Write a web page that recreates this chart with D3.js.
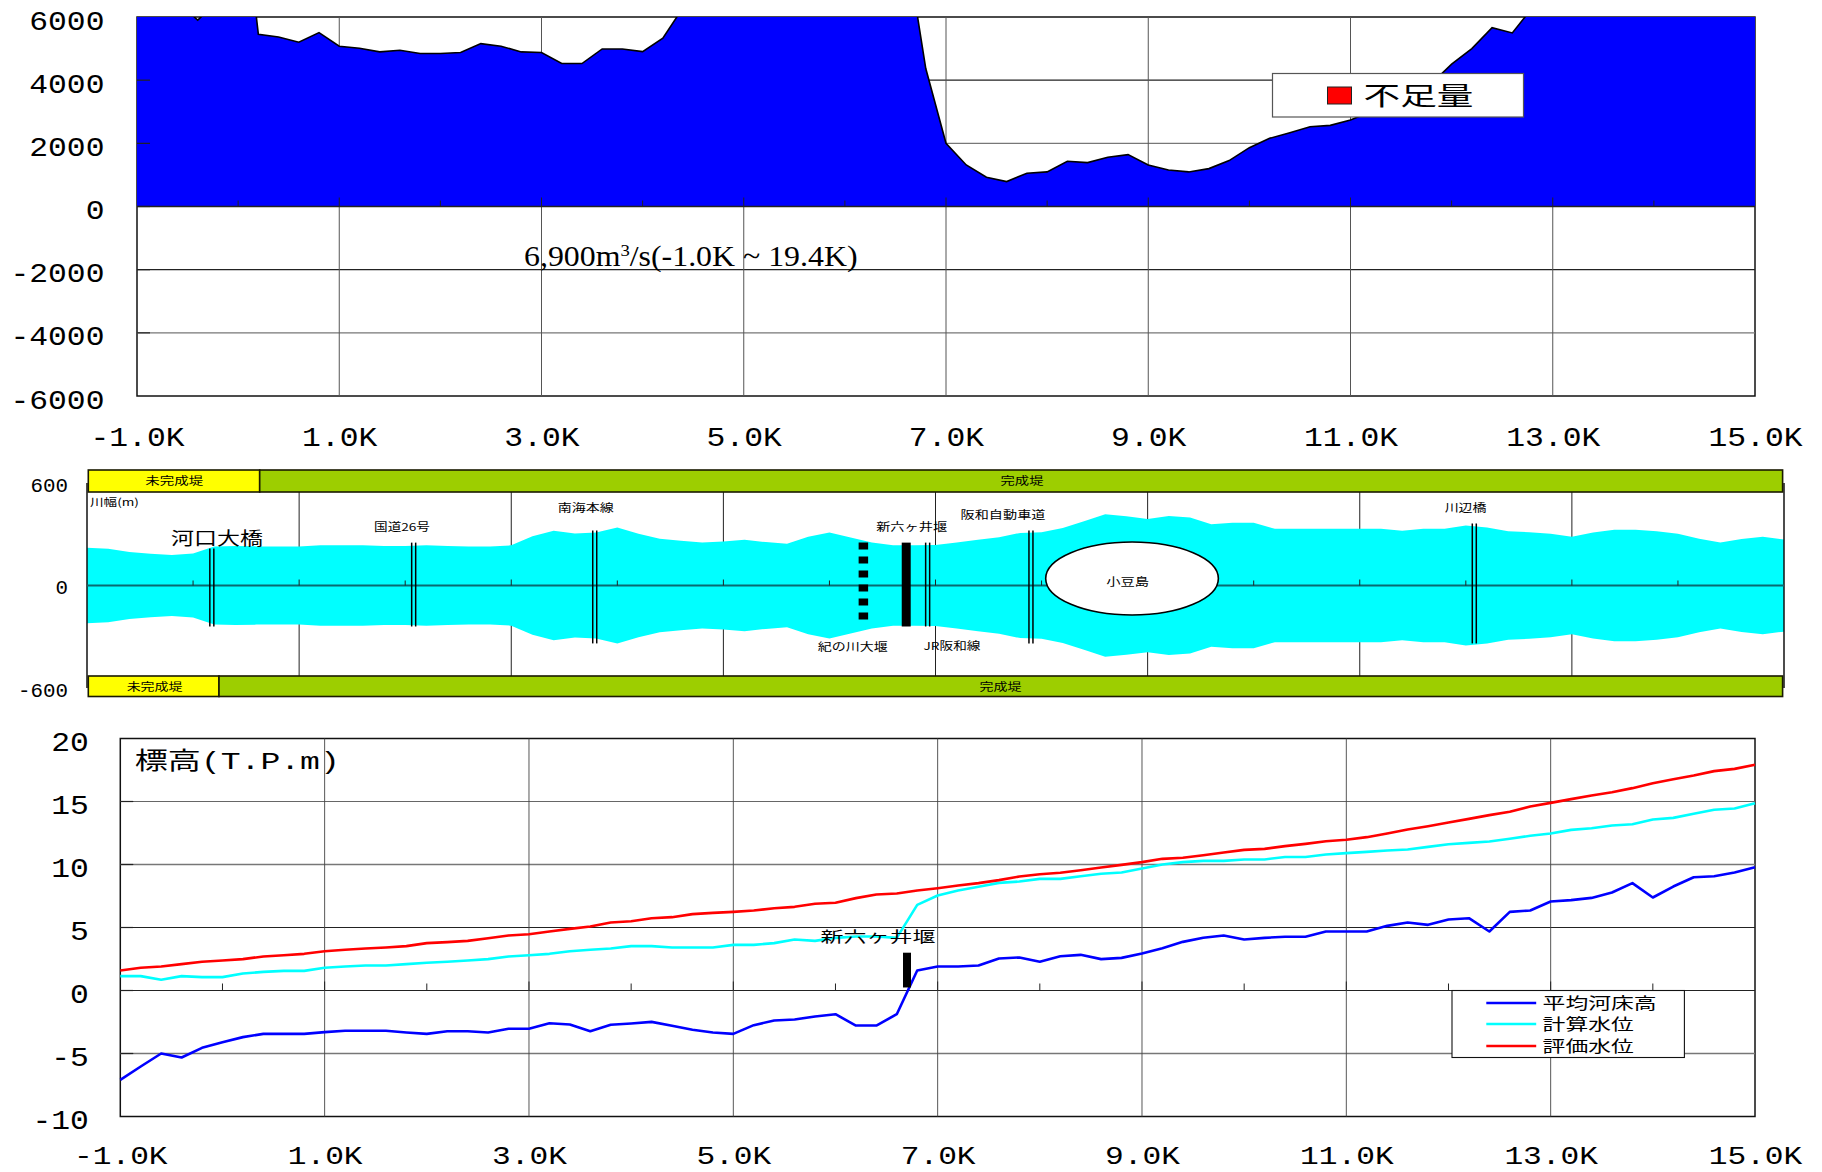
<!DOCTYPE html>
<html lang="ja">
<head>
<meta charset="utf-8">
<style>html,body{margin:0;padding:0;background:#fff}svg{display:block}</style>
<script src="https://cdn.jsdelivr.net/npm/d3@7"></script>
</head>
<body>
<svg id="c" width="1822" height="1172"></svg>
<script>
// ---- data (km posts every 0.2K from -1.0K to 15.0K) ----
const kmStart = -1, kmStep = 0.2;
const shortage = [6500,6500,6500,5900,6500,11000,5453,5368,5200,5505,5074,5010,4895,4947,4842,4842,4874,5158,5074,4895,4874,4526,4526,4989,4989,4905,5326,6300,8000,9000,9000,9000,9000,9000,9000,9000,9000,8800,8400,4368,2000,1316,926,790,1053,1095,1432,1390,1558,1642,1316,1158,1095,1200,1453,1863,2158,2337,2526,2568,2737,3000,3263,3526,3895,4505,5000,5663,5495,6300,7000,7500,7500,7500,7500,7500,7500,7500,7500,7500,7500];
const halfWidth = [221,215,196,186,178,188,229,231,229,229,229,235,235,235,231,231,235,231,229,229,235,289,320,305,310,340,303,274,262,252,258,268,254,244,285,310,281,252,235,235,237,252,268,283,308,312,336,376,417,405,390,407,398,359,367,367,332,332,332,332,332,332,320,332,332,351,340,318,312,303,285,310,326,326,318,303,274,252,272,285,270];
const bedHeight = [-7.09,-6.03,-5.0,-5.32,-4.55,-4.1,-3.7,-3.44,-3.44,-3.44,-3.3,-3.2,-3.2,-3.2,-3.33,-3.44,-3.23,-3.23,-3.33,-3.04,-3.04,-2.6,-2.7,-3.23,-2.72,-2.62,-2.49,-2.8,-3.12,-3.33,-3.44,-2.75,-2.38,-2.3,-2.06,-1.88,-2.78,-2.78,-1.88,1.59,1.9,1.9,1.98,2.54,2.62,2.28,2.72,2.83,2.49,2.59,2.94,3.36,3.86,4.18,4.37,4.05,4.18,4.26,4.26,4.68,4.68,4.68,5.13,5.4,5.21,5.63,5.74,4.68,6.24,6.35,7.06,7.17,7.35,7.78,8.52,7.38,8.25,8.99,9.07,9.37,9.79];
const calcLevel = [1.14,1.14,0.85,1.14,1.06,1.06,1.35,1.48,1.56,1.56,1.8,1.9,1.98,1.98,2.09,2.2,2.28,2.38,2.49,2.7,2.8,2.91,3.12,3.23,3.33,3.52,3.52,3.41,3.41,3.41,3.62,3.62,3.76,4.05,3.94,4.18,4.29,4.29,4.18,6.8,7.54,7.94,8.23,8.54,8.65,8.86,8.86,9.07,9.26,9.37,9.68,10.0,10.19,10.29,10.29,10.4,10.4,10.6,10.6,10.79,10.9,11.0,11.11,11.19,11.4,11.61,11.72,11.83,12.04,12.28,12.46,12.75,12.88,13.1,13.2,13.57,13.7,14.02,14.34,14.44,14.87];
const evalLevel = [1.59,1.8,1.9,2.09,2.28,2.38,2.49,2.7,2.8,2.91,3.12,3.23,3.33,3.41,3.52,3.76,3.84,3.94,4.15,4.37,4.47,4.68,4.89,5.08,5.4,5.5,5.74,5.82,6.06,6.16,6.24,6.35,6.53,6.64,6.88,6.96,7.33,7.62,7.7,7.94,8.12,8.33,8.52,8.76,9.05,9.23,9.34,9.55,9.76,9.97,10.19,10.45,10.53,10.74,10.95,11.16,11.24,11.46,11.64,11.85,11.96,12.17,12.46,12.78,13.04,13.33,13.62,13.92,14.18,14.6,14.89,15.19,15.48,15.74,16.06,16.45,16.77,17.06,17.41,17.59,17.91];
const oddKm = [-1,1,3,5,7,9,11,13,15];
const evenKm = [0,2,4,6,8,10,12,14];
const topTicks = [6000,4000,2000,0,-2000,-4000,-6000];
const midTicks = [600,0,-600];
const lowTicks = [20,15,10,5,0,-5,-10];
const seriesNames = ['平均河床高','計算水位','評価水位'];
const seriesColors = ['#0000ff','#00ffff','#ff0000'];
const bridgeNames = ['河口大橋','国道26号','南海本線','JR阪和線','阪和自動車道','川辺橋'];
const bridgeKm = [0.177,2.08,3.787,6.926,7.9,12.08];
const bridgeUp = [216,251,322,251,322,363];
const bridgeDown = [240,240,339,240,339,339];
const weirKm = 6.32, weirKm2 = 6.724;

const svg = d3.select('#c');
const MONO = '"Liberation Mono",monospace', CJK = '"Noto Sans CJK JP",sans-serif', SERIF = '"Liberation Serif",serif';
const toRows = arr => arr.map((v,i)=>({km:kmStart+i*kmStep, v}));

// text stretched to a measured width, as the reference is anamorphic
function label(g, str, x, cy, size, width, anchor='middle', family=CJK){
  const t = g.append('text').text(str).attr('font-family',family).attr('font-size',size)
    .attr('text-anchor',anchor).attr('fill','#000');
  const sx = width / t.node().getComputedTextLength();
  t.attr('transform',`translate(${x},${cy+size*0.36}) scale(${sx},1)`);
  return t;
}
function styleAxis(g, size, sx, tx, ty){
  g.select('.domain').remove();
  g.selectAll('line').remove();
  g.selectAll('text').attr('x',0).attr('y',0).attr('dy',null)
    .attr('font-family',MONO).attr('font-size',size).attr('fill','#000')
    .attr('transform',`translate(${tx},${ty}) scale(${sx},1)`);
}
function vLines(g, vals, x, y0, y1, color='#555', w=1){
  g.selectAll(null).data(vals).join('line')
   .attr('x1',x).attr('x2',x).attr('y1',y0).attr('y2',y1)
   .attr('stroke',color).attr('stroke-width',w);
}

// ================= top chart =================
{
  const L=137, R=1755;
  const x = d3.scaleLinear([-1,15],[L,R]);
  const y = d3.scaleLinear([6000,-6000],[17,396]);
  const g = svg.append('g');
  svg.append('defs').append('clipPath').attr('id','topClip').append('rect')
    .attr('x',L).attr('y',17).attr('width',R-L).attr('height',379);
  const gridColor = {4000:'#222',2000:'#777','-2000':'#222','-4000':'#777'};
  g.append('rect').attr('x',L).attr('y',17).attr('width',R-L).attr('height',379)
    .attr('fill','#fff').attr('stroke','#111').attr('stroke-width',1.5);
  g.selectAll(null).data(topTicks.filter(d=>Math.abs(d)<6000&&d!==0)).join('line')
    .attr('x1',L).attr('x2',R).attr('y1',d=>y(d)).attr('y2',d=>y(d))
    .attr('stroke',d=>gridColor[d]).attr('stroke-width',1.3);
  vLines(g, oddKm.slice(1,-1), d=>x(d), 17, 396, '#555', 1);
  const rows = toRows(shortage);
  const clip = g.append('g').attr('clip-path','url(#topClip)');
  clip.append('path').datum(rows).attr('fill','#0000ff')
    .attr('d',d3.area().x(d=>x(d.km)).y0(y(0)).y1(d=>y(d.v)));
  clip.append('path').datum(rows).attr('fill','none').attr('stroke','#000').attr('stroke-width',1.6)
    .attr('d',d3.line().x(d=>x(d.km)).y(d=>y(d.v)));
  g.append('line').attr('x1',L).attr('x2',R).attr('y1',y(0)).attr('y2',y(0)).attr('stroke','#222').attr('stroke-width',1.5);
  vLines(g, oddKm.slice(1,-1), d=>x(d), y(0)-9, y(0), '#222', 1);
  vLines(g, evenKm, d=>x(d), y(0)-6, y(0), '#222', 1);
  g.selectAll(null).data(topTicks.slice(1,-1)).join('line')
    .attr('x1',L).attr('x2',L+13).attr('y1',d=>y(d)).attr('y2',d=>y(d)).attr('stroke','#222').attr('stroke-width',1.2);
  g.append('g').attr('transform',`translate(${L},0)`)
    .call(d3.axisLeft(y).tickValues(topTicks).tickSize(0).tickFormat(d=>String(d)))
    .call(a=>styleAxis(a,28,1.12,-32.5,12));
  g.append('g').attr('transform','translate(0,396)')
    .call(d3.axisBottom(x).tickValues(oddKm).tickSize(0).tickFormat(d=>d.toFixed(1)+'K'))
    .call(a=>styleAxis(a,28,1.12,0,50));
  // discharge note
  const note = g.append('text').attr('font-family',SERIF).attr('font-size',29).attr('fill','#000');
  note.append('tspan').text('6,900m');
  note.append('tspan').text('3').attr('font-size',17).attr('dy',-10);
  note.append('tspan').text('/s(-1.0K ~ 19.4K)').attr('dy',10);
  const nw = note.node().getComputedTextLength();
  note.attr('transform',`translate(524,266) scale(${333.6/nw},1)`);
  // legend
  g.append('rect').attr('x',1272.5).attr('y',73.5).attr('width',251).attr('height',43.5)
    .attr('fill','#fff').attr('stroke','#555').attr('stroke-width',1.2);
  g.append('rect').attr('x',1327.5).attr('y',87).attr('width',24).attr('height',17)
    .attr('fill','#ff0000').attr('stroke','#222').attr('stroke-width',1);
  label(g,'不足量',1363.5,96,25,110,'start');
}

// ================= middle chart =================
{
  const x = d3.scaleLinear([-1,15],[87,1784]);
  const y = d3.scaleLinear([600,-600],[483,688]);
  const g = svg.append('g');
  // grid
  vLines(g, oddKm.slice(1,-1), d=>x(d), 492, 676, '#222', 1);
  const rows = toRows(halfWidth);
  g.append('path').datum(rows).attr('fill','#00ffff')
    .attr('d',d3.area().x(d=>x(d.km)).y0(d=>y(-d.v)).y1(d=>y(d.v)));
  // frame sides
  vLines(g,[-1],d=>x(d),483,688,'#111',1.5);
  vLines(g,[15],d=>x(d),483,688,'#111',1.5);
  // zero line & ticks
  g.append('line').attr('x1',x(-1)).attr('x2',x(15)).attr('y1',y(0)).attr('y2',y(0)).attr('stroke','#0a6a70').attr('stroke-width',2.2);
  vLines(g, oddKm.slice(1,-1), d=>x(d), y(0)-6, y(0), '#222', 1);
  vLines(g, evenKm, d=>x(d), y(0)-5, y(0), '#222', 1);
  // weirs
  g.append('line').attr('x1',x(weirKm)).attr('x2',x(weirKm)).attr('y1',y(251)).attr('y2',y(-199))
    .attr('stroke','#000').attr('stroke-width',9.5).attr('stroke-dasharray','7 7');
  g.append('line').attr('x1',x(weirKm2)).attr('x2',x(weirKm2)).attr('y1',y(251)).attr('y2',y(-240))
    .attr('stroke','#000').attr('stroke-width',9);
  // bridges: double lines
  bridgeKm.forEach((k,i)=>{
    [-2,2].forEach(off=>{
      g.append('line').attr('x1',x(k)+off).attr('x2',x(k)+off)
       .attr('y1',y(bridgeUp[i])).attr('y2',y(-bridgeDown[i]))
       .attr('stroke','#000').attr('stroke-width',1.5);
    });
  });
  // island
  g.append('ellipse').attr('cx',x(8.853)).attr('cy',y(41)).attr('rx',x(8.853+0.814)-x(8.853)).attr('ry',y(0)-y(214))
    .attr('fill','#fff').attr('stroke','#000').attr('stroke-width',1.6);
  // levee bands
  const band=(x0,x1,y0,y1,fill)=>g.append('rect').attr('x',x0).attr('y',y0).attr('width',x1-x0).attr('height',y1-y0)
    .attr('fill',fill).attr('stroke','#1a1a00').attr('stroke-width',1.6);
  band(88.3,259.7,470,492,'#ffff00'); band(259.7,1782.6,470,492,'#9dce00');
  band(88.3,219,676,696.5,'#ffff00'); band(219,1782.6,676,696.5,'#9dce00');
  label(g,'未完成堤',174.3,481,11,58);
  label(g,'完成堤',1022,481,11,43);
  label(g,'未完成堤',154.6,687,11,56);
  label(g,'完成堤',1000.5,687,11,42);
  label(g,'川幅(m)',90,502,10.5,49,'start');
  label(g,bridgeNames[0],217,539,18,92);
  label(g,bridgeNames[1],402,527,11,56);
  label(g,bridgeNames[2],585.7,508.5,11,56);
  label(g,'新六ヶ井堰',911.6,527.5,11,71);
  label(g,bridgeNames[4],1003,515.5,11,85);
  label(g,bridgeNames[5],1465.6,508.5,11,42);
  label(g,'紀の川大堰',852.7,647,11,70);
  label(g,bridgeNames[3],952,646.5,11,57);
  label(g,'小豆島',1127.7,582.5,11,43);
  g.append('g').attr('transform','translate(87,0)')
    .call(d3.axisLeft(y).tickValues(midTicks).tickSize(0).tickFormat(d=>String(d)))
    .call(a=>styleAxis(a,19.5,1.07,-19,8));
}

// ================= bottom chart =================
{
  const L=120.3, R=1755;
  const x = d3.scaleLinear([-1,15],[L,R]);
  const y = d3.scaleLinear([20,-10],[738.5,1116.5]);
  const g = svg.append('g');
  g.append('rect').attr('x',L).attr('y',y(20)).attr('width',R-L).attr('height',y(-10)-y(20))
    .attr('fill','#fff').attr('stroke','#111').attr('stroke-width',1.5);
  const gridColor = {15:'#666',10:'#777',5:'#222',0:'#222','-5':'#777'};
  g.selectAll(null).data(lowTicks.slice(1,-1)).join('line')
    .attr('x1',L).attr('x2',R).attr('y1',d=>y(d)).attr('y2',d=>y(d))
    .attr('stroke',d=>gridColor[d]).attr('stroke-width',d=>(d===10||d===-5)?1.6:1.1);
  vLines(g, oddKm.slice(1,-1), d=>x(d), y(20), y(-10), '#444', 0.9);
  vLines(g, oddKm.slice(1,-1), d=>x(d), y(0)-9, y(0), '#222', 1);
  vLines(g, evenKm, d=>x(d), y(0)-7, y(0), '#222', 1);
  g.selectAll(null).data(lowTicks.slice(1,-1)).join('line')
    .attr('x1',L).attr('x2',L+13).attr('y1',d=>y(d)).attr('y2',d=>y(d)).attr('stroke','#222').attr('stroke-width',1.2);
  const line = d3.line().x(d=>x(d.km)).y(d=>y(d.v));
  [bedHeight,calcLevel,evalLevel].forEach((arr,i)=>{
    g.append('path').datum(toRows(arr)).attr('fill','none').attr('stroke',seriesColors[i]).attr('stroke-width',2.6)
      .attr('stroke-linejoin','round').attr('d',line);
  });
  // weir mark
  g.append('line').attr('x1',x(6.7)).attr('x2',x(6.7)).attr('y1',y(3)).attr('y2',y(0.24))
    .attr('stroke','#000').attr('stroke-width',8);
  label(g,'新六ヶ井堰',878,937,15,115);
  // axis title
  const tt = g.append('text').attr('font-family',CJK).attr('font-size',24).attr('fill','#000');
  tt.append('tspan').text('標高');
  tt.append('tspan').text('(T.P.m)').attr('font-family',MONO).attr('font-size',24);
  const tw = tt.node().getComputedTextLength();
  tt.attr('transform',`translate(134.8,769) scale(${205/tw},1)`);
  // legend
  g.append('rect').attr('x',1452).attr('y',990.5).attr('width',232.4).attr('height',67)
    .attr('fill','#fff').attr('stroke','#111').attr('stroke-width',1.1);
  const ly=[1003,1024,1046];
  seriesNames.forEach((n,i)=>{
    g.append('line').attr('x1',1486.3).attr('x2',1536.2).attr('y1',ly[i]).attr('y2',ly[i])
      .attr('stroke',seriesColors[i]).attr('stroke-width',2.6);
    label(g,n,1542.6,ly[i],16,n.length*22.8,'start');
  });
  g.append('g').attr('transform',`translate(${L},0)`)
    .call(d3.axisLeft(y).tickValues(lowTicks).tickSize(0).tickFormat(d=>String(d)))
    .call(a=>styleAxis(a,28,1.12,-31.4,11.5));
  g.append('g').attr('transform','translate(0,1116.5)')
    .call(d3.axisBottom(x).tickValues(oddKm).tickSize(0).tickFormat(d=>d.toFixed(1)+'K'))
    .call(a=>styleAxis(a,26,1.2,0,47.4));
}
</script>
</body>
</html>
